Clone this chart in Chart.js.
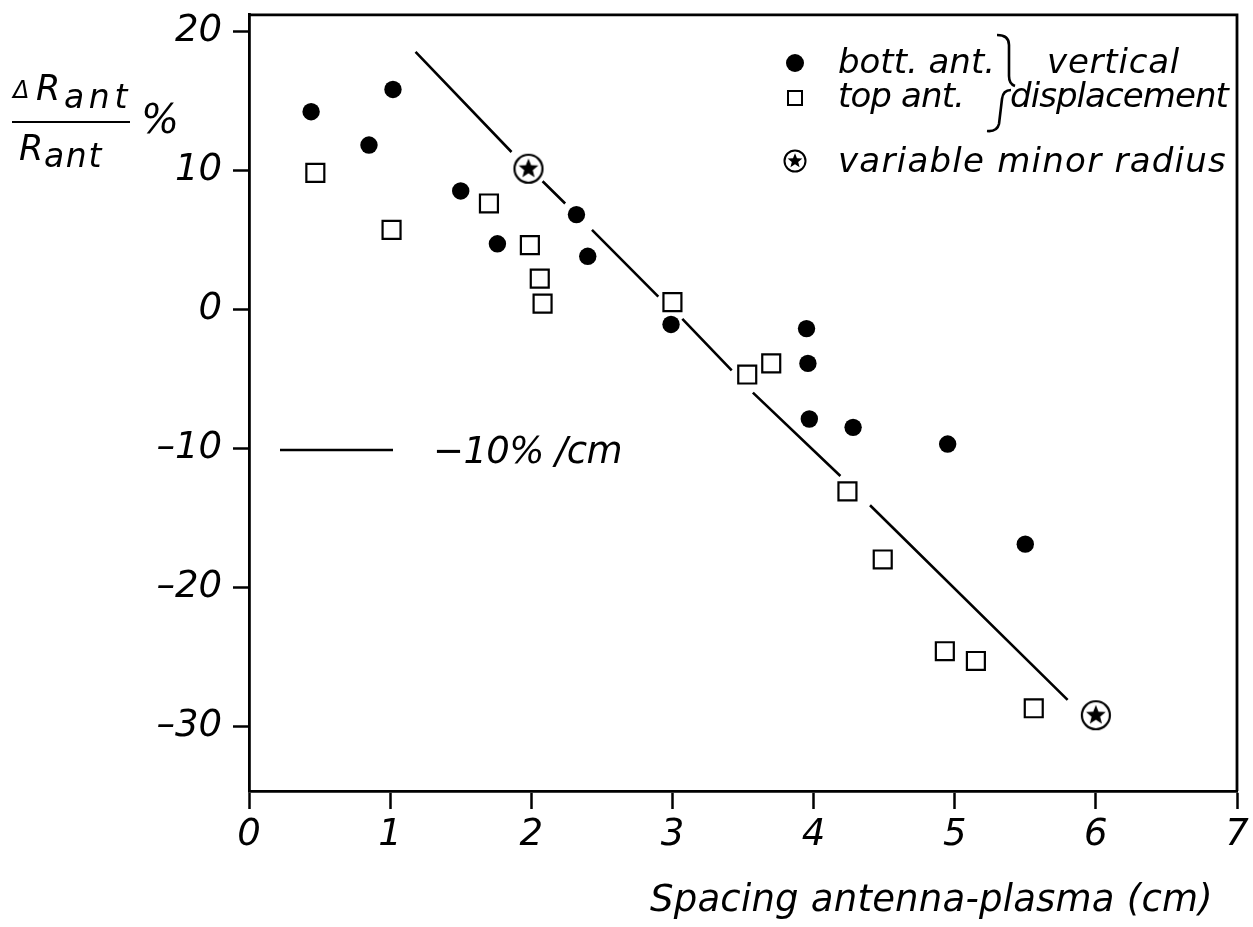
<!DOCTYPE html>
<html>
<head>
<meta charset="utf-8">
<script src="https://cdn.jsdelivr.net/npm/chart.js@4.4.1/dist/chart.umd.min.js"></script>
<style>
  html, body { margin: 0; padding: 0; background: #fff; }
  #chart { display: block; }
</style>
</head>
<body>
<canvas id="chart" width="1253" height="927"></canvas>
<script>
// values
var bottX = [0.44, 0.85, 1.02, 1.50, 1.76, 2.32, 2.40, 2.99, 3.95, 3.96, 3.97, 4.28, 4.95, 5.50];
var bottY = [14.2, 11.8, 15.8, 8.5, 4.7, 6.8, 3.8, -1.1, -1.4, -3.9, -7.9, -8.5, -9.7, -16.9];

var topX = [0.47, 1.01, 1.70, 1.99, 2.06, 2.08, 3.00, 3.53, 3.70, 4.24, 4.49, 4.93, 5.15, 5.56];
var topY = [9.8, 5.7, 7.6, 4.6, 2.2, 0.4, 0.5, -4.7, -3.9, -13.1, -18.0, -24.6, -25.3, -28.7];

var minorX = [1.98, 6.00];
var minorY = [10.1, -29.2];

// -10%/cm line, broken where it passes the markers (null = gap)
var fitX = [1.18, 1.86, 1.86, 2.08, 2.24, 2.24, 2.43, 2.90, 2.90, 3.07, 3.42, 3.42, 3.57, 4.19, 4.19, 4.40, 5.80];
var fitY = [18.5, 11.3, null, 9.2, 7.6, null, 5.7, 0.9, null, -0.7, -4.4, null, -6.0, -12.0, null, -14.1, -28.1];

var xTicks = [0, 1, 2, 3, 4, 5, 6, 7];
var yTicks = [-30, -20, -10, 0, 10, 20];

var FONT = "DejaVu Sans";

function toPoints(xs, ys)
{
	return xs.map(function(x, i) { return { x: x, y: ys[i] }; });
}

function drawStarCircle(ctx, cx, cy, r, lw)
{
	ctx.beginPath();
	ctx.arc(cx, cy, r, 0, Math.PI * 2);
	ctx.fillStyle = "#fff";
	ctx.fill();
	ctx.lineWidth = lw;
	ctx.strokeStyle = "#000";
	ctx.stroke();

	var outer = r * 0.74, inner = r * 0.32;
	ctx.beginPath();
	for (var i = 0; i < 10; i++)
	{
		var rad = (i % 2 === 0) ? outer : inner;
		var ang = -Math.PI / 2 + i * Math.PI / 5;
		var px = cx + rad * Math.cos(ang), py = cy + rad * Math.sin(ang);
		if (i === 0) ctx.moveTo(px, py); else ctx.lineTo(px, py);
	}
	ctx.closePath();
	ctx.fillStyle = "#000";
	ctx.fill();
}

var starImg = document.createElement("canvas");
starImg.width = 34;
starImg.height = 34;
drawStarCircle(starImg.getContext("2d"), 17, 17, 14, 2.2);

function fitText(ctx, str, x, y, w)
{
	ctx.letterSpacing = "0px";
	var m = ctx.measureText(str).width;
	ctx.letterSpacing = ((w - m) / str.length).toFixed(2) + "px";
	ctx.fillText(str, x, y);
	ctx.letterSpacing = "0px";
}

var annotations = {
	id: "annotations",
	afterDraw: function(chart)
	{
		var ctx = chart.ctx;
		var a = chart.chartArea;
		ctx.save();

		// top and right frame
		ctx.strokeStyle = "#000";
		ctx.lineWidth = 2.8;
		ctx.beginPath();
		ctx.moveTo(a.left, a.top);
		ctx.lineTo(a.right, a.top);
		ctx.lineTo(a.right, a.bottom);
		ctx.stroke();

		ctx.fillStyle = "#000";
		ctx.textBaseline = "alphabetic";
		ctx.textAlign = "left";

		// y axis title: ΔR_ant / R_ant %
		ctx.font = "italic 24px '" + FONT + "'";
		ctx.fillText("\u0394", 13, 98);
		ctx.font = "italic 35px '" + FONT + "'";
		ctx.fillText("R", 36, 100);
		ctx.font = "italic 33px '" + FONT + "'";
		fitText(ctx, "ant", 64, 108, 68);
		ctx.lineWidth = 2.2;
		ctx.beginPath();
		ctx.moveTo(12, 122);
		ctx.lineTo(130, 122);
		ctx.stroke();
		ctx.font = "italic 35px '" + FONT + "'";
		ctx.fillText("R", 19, 160);
		ctx.font = "italic 33px '" + FONT + "'";
		fitText(ctx, "ant", 44, 167, 59);
		ctx.font = "italic 40px '" + FONT + "'";
		ctx.fillText("%", 141, 133);

		// x axis title
		ctx.font = "italic 37px '" + FONT + "'";
		fitText(ctx, "Spacing antenna-plasma (cm)", 650, 911, 563);

		// slope note
		ctx.lineWidth = 2.6;
		ctx.beginPath();
		ctx.moveTo(280, 450);
		ctx.lineTo(393, 450);
		ctx.stroke();
		fitText(ctx, "\u221210% /cm", 433, 463, 189);

		// legend
		ctx.beginPath();
		ctx.arc(795, 63, 9, 0, Math.PI * 2);
		ctx.fill();
		ctx.lineWidth = 2;
		ctx.strokeRect(788, 91, 14, 14);
		drawStarCircle(ctx, 795, 161, 10.5, 2);

		ctx.fillStyle = "#000";
		ctx.font = "italic 34px '" + FONT + "'";
		fitText(ctx, "bott. ant.", 838, 73, 157);
		fitText(ctx, "vertical", 1047, 73, 133);
		fitText(ctx, "top ant.", 838, 107, 126);
		fitText(ctx, "displacement", 1010, 107, 218);
		fitText(ctx, "variable minor radius", 838, 172, 389);

		// brace joining the first two rows
		ctx.lineWidth = 2.6;
		ctx.beginPath();
		ctx.moveTo(997, 35);
		ctx.quadraticCurveTo(1009, 35, 1009, 45);
		ctx.lineTo(1009, 76);
		ctx.quadraticCurveTo(1009, 84, 1015, 86);
		ctx.moveTo(1011, 90);
		ctx.quadraticCurveTo(1003, 90, 1002, 99);
		ctx.lineTo(999, 124);
		ctx.quadraticCurveTo(997, 132, 987, 131);
		ctx.stroke();

		ctx.restore();
	}
};

var tickFont = { family: FONT, size: 37, style: "italic" };

new Chart(document.getElementById("chart"), {
	type: "scatter",
	data: {
		datasets: [
			{
				label: "-10% /cm",
				data: toPoints(fitX, fitY),
				showLine: true,
				spanGaps: false,
				borderColor: "#000",
				borderWidth: 2.6,
				pointRadius: 0,
				order: 10
			},
			{
				label: "top ant.",
				data: toPoints(topX, topY),
				pointStyle: "rect",
				pointRadius: 12.7,
				backgroundColor: "#fff",
				borderColor: "#000",
				borderWidth: 2.2,
				order: 2
			},
			{
				label: "bott. ant.",
				data: toPoints(bottX, bottY),
				pointStyle: "circle",
				pointRadius: 8.7,
				backgroundColor: "#000",
				borderColor: "#000",
				borderWidth: 0,
				order: 1
			},
			{
				label: "variable minor radius",
				data: toPoints(minorX, minorY),
				pointStyle: starImg,
				order: 1
			}
		]
	},
	options: {
		responsive: false,
		animation: false,
		devicePixelRatio: 1,
		layout: { padding: { left: 0, top: 13, right: 16, bottom: 0 } },
		plugins: {
			legend: { display: false },
			tooltip: { enabled: false }
		},
		scales: {
			x: {
				type: "linear",
				min: 0,
				max: 7,
				afterBuildTicks: function(s) { s.ticks = xTicks.map(function(v) { return { value: v }; }); },
				afterFit: function(s) { s.height = 136; s.paddingLeft = 0; s.paddingRight = 0; },
				grid: { drawOnChartArea: false, drawTicks: true, tickLength: 18, tickColor: "#000", tickWidth: 2.5 },
				border: { display: true, color: "#000", width: 2.8 },
				ticks: { color: "#000", font: tickFont, padding: 4, maxRotation: 0, autoSkip: false }
			},
			y: {
				type: "linear",
				min: -34.65,
				max: 21.16,
				afterBuildTicks: function(s) { s.ticks = yTicks.map(function(v) { return { value: v }; }); },
				afterFit: function(s) { s.width = 249; s.paddingTop = 0; s.paddingBottom = 0; },
				grid: { drawOnChartArea: false, drawTicks: true, tickLength: 16, tickColor: "#000", tickWidth: 2.5 },
				border: { display: true, color: "#000", width: 2.8 },
				ticks: {
					color: "#000",
					font: tickFont,
					padding: 11,
					callback: function(v) { return v < 0 ? "\u2013" + Math.abs(v) : String(v); }
				}
			}
		}
	},
	plugins: [annotations]
});
</script>
</body>
</html>
